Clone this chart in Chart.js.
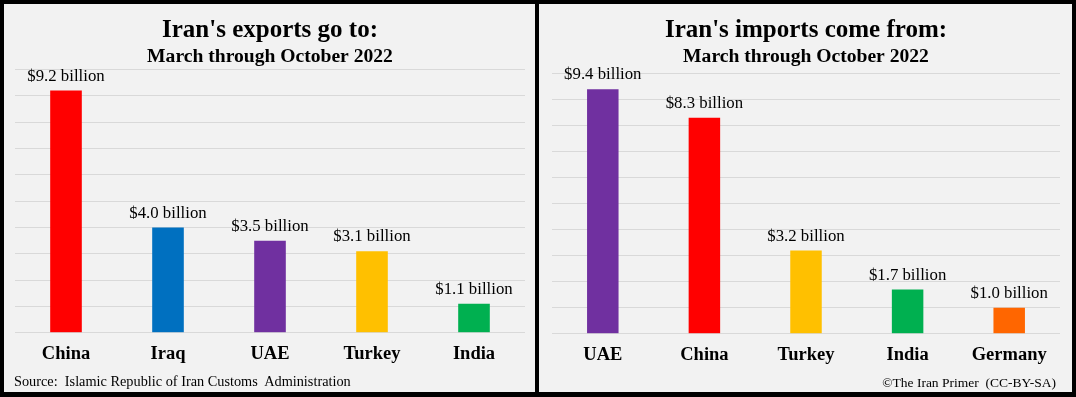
<!DOCTYPE html>
<html>
<head>
<meta charset="utf-8">
<script src="https://cdn.jsdelivr.net/npm/chart.js@4.4.0/dist/chart.umd.min.js"></script>
<style>
  html, body { margin: 0; padding: 0; background: #000; }
  body { width: 1076px; height: 397px; position: relative; overflow: hidden; }
  .panel { position: absolute; top: 4px; height: 388px; background: #f2f2f2; }
  #left { left: 4px; width: 531px; }
  #right { left: 539px; width: 533px; }
  .note { position: absolute; font-family: "Liberation Serif", serif; font-size: 14.3px; color: #000; white-space: pre; }
  #source { left: 10px; top: 369px; }
  #credit { right: 16px; top: 371px; font-size: 13.5px; }
</style>
</head>
<body>
<div class="panel" id="left">
  <canvas id="exportsChart" width="531" height="388"></canvas>
  <div class="note" id="source">Source:  Islamic Republic of Iran Customs  Administration</div>
</div>
<div class="panel" id="right">
  <canvas id="importsChart" width="533" height="388"></canvas>
  <div class="note" id="credit">©The Iran Primer  (CC-BY-SA)</div>
</div>
<script>
const exportCountries = ['China', 'Iraq', 'UAE', 'Turkey', 'India'];
const exportValues = [9.2, 4.0, 3.5, 3.1, 1.1];
const exportColors = ['#ff0000', '#0070c0', '#7030a0', '#ffc000', '#00b050'];

const importCountries = ['UAE', 'China', 'Turkey', 'India', 'Germany'];
const importValues = [9.4, 8.3, 3.2, 1.7, 1.0];
const importColors = ['#7030a0', '#ff0000', '#ffc000', '#00b050', '#ff6600'];

const yTicks = [0, 1, 2, 3, 4, 5, 6, 7, 8, 9, 10];

const serif = '"Liberation Serif", "Times New Roman", serif';

// writes "$x.x billion" above every bar
const valueLabels = {
    id: 'valueLabels',
    afterDatasetsDraw(chart) {
        const ctx = chart.ctx;
        ctx.save();
        ctx.font = '16.8px ' + serif;
        ctx.fillStyle = '#000';
        ctx.textAlign = 'center';
        ctx.textBaseline = 'alphabetic';
        chart.getDatasetMeta(0).data.forEach((bar, i) => {
            const v = chart.data.datasets[0].data[i];
            ctx.fillText('$' + v.toFixed(1) + ' billion', bar.x, bar.y - 10);
        });
        ctx.restore();
    }
};

function makeChart(id, title, labels, values, colors, pad) {
    return new Chart(document.getElementById(id), {
        type: 'bar',
        data: {
            labels: labels,
            datasets: [{
                data: values,
                backgroundColor: colors,
                categoryPercentage: 1,
                barPercentage: 0.31
            }]
        },
        options: {
            responsive: false,
            animation: false,
            layout: { padding: pad },
            plugins: {
                legend: { display: false },
                tooltip: { enabled: false },
                title: {
                    display: true,
                    text: title,
                    color: '#000',
                    font: { family: serif, size: 25, weight: 'bold', lineHeight: 1.2 },
                    padding: { top: 12, bottom: 0 }
                },
                subtitle: {
                    display: true,
                    text: 'March through October 2022',
                    color: '#000',
                    font: { family: serif, size: 19.6, weight: 'bold', lineHeight: 1.1 },
                    padding: { top: 0, bottom: pad.sub }
                }
            },
            scales: {
                x: {
                    grid: { display: false, drawTicks: false },
                    border: { display: false },
                    ticks: {
                        color: '#000',
                        padding: 10,
                        font: { family: serif, size: 18.5, weight: 'bold', lineHeight: 1.2 }
                    }
                },
                y: {
                    min: 0,
                    max: yTicks[yTicks.length - 1],
                    afterBuildTicks: (axis) => { axis.ticks = yTicks.map(v => ({ value: v })); },
                    grid: { color: '#d9d9d9', lineWidth: 1, drawTicks: false },
                    border: { display: false },
                    ticks: { display: false }
                }
            }
        },
        plugins: [valueLabels]
    });
}

makeChart('exportsChart', "Iran's exports go to:", exportCountries, exportValues, exportColors,
    { top: 0, left: 11, right: 10, bottom: 17, sub: 2 });
makeChart('importsChart', "Iran's imports come from:", importCountries, importValues, importColors,
    { top: 0, left: 13, right: 12, bottom: 16, sub: 6 });
</script>
</body>
</html>
